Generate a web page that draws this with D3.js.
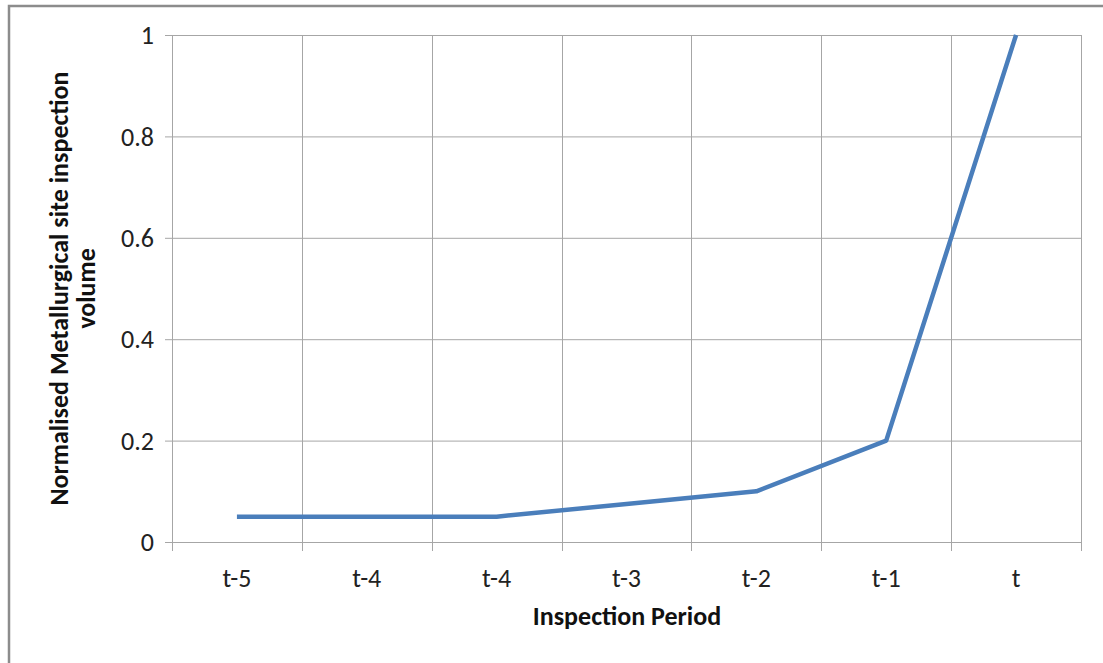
<!DOCTYPE html>
<html><head><meta charset="utf-8">
<script src="https://cdn.jsdelivr.net/npm/d3@7"></script>
<style>body{margin:0;background:#fff;} svg{display:block;}</style>
</head><body>
<svg id="c" width="1103" height="663"></svg>
<script>
const categories = ["t-5","t-4","t-4","t-3","t-2","t-1","t"];
const values = [0.05,0.05,0.05,0.075,0.1,0.2,1];
const yTicks = [0,0.2,0.4,0.6,0.8,1];

const svg = d3.select("#c");
const font = "Carlito, Lato, 'Open Sans', sans-serif";
const m = {l:172, r:1081, t:35, b:542};
const grid = "#a6a6a6";

// outer border
svg.append("path").attr("d","M9,663 V6 H1103").attr("fill","none").attr("stroke","#8c8c8c").attr("stroke-width",2.5);

const x = d3.scaleBand().domain(d3.range(categories.length)).range([m.l,m.r]).padding(0);
const y = d3.scaleLinear().domain([0,1]).range([m.b,m.t]);

svg.append("g").selectAll("line").data(yTicks).join("line")
  .attr("x1",m.l-7).attr("x2",m.r).attr("y1",d=>y(d)+0.5).attr("y2",d=>y(d)+0.5)
  .attr("stroke",grid).attr("stroke-width",1);
const bounds = d3.range(categories.length+1).map(i=> i<categories.length ? x(i) : x(categories.length-1)+x.bandwidth());
svg.append("g").selectAll("line").data(bounds).join("line")
  .attr("x1",d=>Math.round(d)+0.5).attr("x2",d=>Math.round(d)+0.5).attr("y1",m.t).attr("y2",m.b+9)
  .attr("stroke",grid).attr("stroke-width",1);

svg.append("g").selectAll("text").data(yTicks).join("text")
  .attr("x",m.l-18).attr("y",d=>y(d)).attr("dy","0.35em").attr("text-anchor","end")
  .attr("font-family",font).attr("font-size",26).attr("fill","#222")
  .text(d=>d3.format("")(d));

svg.append("g").selectAll("text").data(categories).join("text")
  .attr("x",(d,i)=>x(i)+x.bandwidth()/2).attr("y",587).attr("text-anchor","middle")
  .attr("font-family",font).attr("font-size",26).attr("fill","#222")
  .text(d=>d);

const line = d3.line().x((d,i)=>x(i)+x.bandwidth()/2).y(d=>y(d));
svg.append("path").datum(values).attr("d",line).attr("fill","none")
  .attr("stroke","#4a7ebb").attr("stroke-width",4.5).attr("stroke-linejoin","round");

svg.append("text").attr("x",627).attr("y",625).attr("text-anchor","middle")
  .attr("font-family",font).attr("font-size",26).attr("font-weight","bold").attr("fill","#111")
  .text("Inspection Period");
const yt = svg.append("text").attr("transform",`translate(68,${(m.t+m.b)/2}) rotate(-90)`)
  .attr("text-anchor","middle").attr("font-family",font).attr("font-size",26).attr("font-weight","bold").attr("fill","#111");
yt.append("tspan").attr("x",0).attr("dy",0).text("Normalised Metallurgical site inspection");
yt.append("tspan").attr("x",0).attr("dy",27).text("volume");
</script>
</body></html>
